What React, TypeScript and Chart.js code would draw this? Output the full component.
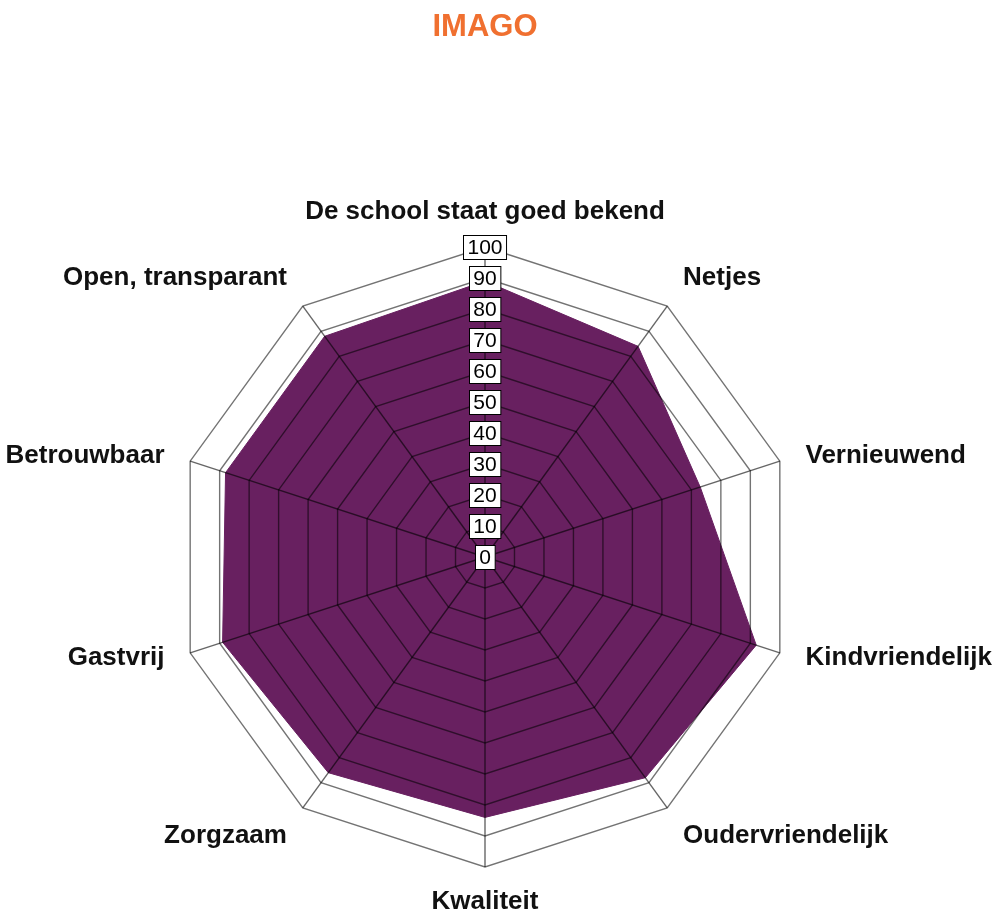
import React, { useEffect, useRef } from "react";
import { Chart, registerables } from "chart.js";

Chart.register(...registerables);

const TITLE = "IMAGO";
const CATEGORIES = [
  "De school staat goed bekend",
  "Netjes",
  "Vernieuwend",
  "Kindvriendelijk",
  "Oudervriendelijk",
  "Kwaliteit",
  "Zorgzaam",
  "Gastvrij",
  "Betrouwbaar",
  "Open, transparant",
];
const VALUES = [89, 84, 73, 92, 88, 84, 86, 89, 88, 88];
const TICK_VALUES = [0, 10, 20, 30, 40, 50, 60, 70, 80, 90, 100];

const FILL = "rgb(104,32,96)";
const FONT = '"Liberation Sans", Arial, Helvetica, sans-serif';

const labelPlugin = {
  id: "customLabels",
  afterDraw(chart: any) {
    const scale = chart.scales.r;
    const ctx = chart.ctx;
    const R = scale.drawingArea;
    const cx = scale.xCenter;
    const cy = scale.yCenter;
    ctx.save();
    // point labels
    ctx.font = `bold 26px ${FONT}`;
    ctx.fillStyle = "#111";
    ctx.textBaseline = "middle";
    CATEGORIES.forEach((lab, i) => {
      const px = scale.getPointPosition(i, R + 27);
      const far = scale.getPointPosition(i, R + 35);
      const steep = Math.abs(far.y - cy) / (R + 35) > 0.5;
      const py = steep ? far : scale.getPointPosition(i, R + 16);
      let align: CanvasTextAlign = "center";
      if (px.x > cx + 1) align = "left";
      else if (px.x < cx - 1) align = "right";
      ctx.textAlign = align;
      ctx.fillText(lab, px.x, py.y);
    });
    // tick boxes
    ctx.font = `21px ${FONT}`;
    ctx.textAlign = "center";
    ctx.textBaseline = "middle";
    TICK_VALUES.forEach((v) => {
      const p = scale.getPointPositionForValue(0, v);
      const text = String(v);
      const w = ctx.measureText(text).width + 8;
      const h = 24;
      const x = Math.round(p.x - w / 2) + 0.5;
      const y = Math.round(p.y - h / 2) + 0.5;
      ctx.fillStyle = "#fff";
      ctx.fillRect(x, y, w, h);
      ctx.strokeStyle = "#000";
      ctx.lineWidth = 1;
      ctx.strokeRect(x, y, w, h);
      ctx.fillStyle = "#000";
      ctx.fillText(text, p.x, p.y + 1);
    });
    ctx.restore();
  },
};

export default function App() {
  const ref = useRef<HTMLCanvasElement>(null);
  useEffect(() => {
    if (!ref.current) return;
    const chart = new Chart(ref.current, {
      type: "radar",
      data: {
        labels: CATEGORIES,
        datasets: [
          {
            label: TITLE,
            data: VALUES,
            backgroundColor: FILL,
            borderColor: FILL,
            borderWidth: 1,
            pointRadius: 0,
            fill: true,
          },
        ],
      },
      options: {
        responsive: false,
        animation: false,
        devicePixelRatio: 1,
        layout: { padding: { left: 174, right: 201, top: 0, bottom: 46 } },
        plugins: {
          legend: { display: false },
          tooltip: { enabled: false },
          title: {
            display: true,
            text: TITLE,
            color: "rgb(240,112,48)",
            font: { family: FONT, size: 31, weight: "bold" },
            padding: { top: 9, bottom: 201 },
          },
        },
        scales: {
          r: {
            min: 0,
            max: 100,
            ticks: { display: false, stepSize: 10 },
            pointLabels: { display: false },
            grid: { z: 1, color: "rgba(0,0,0,0.55)", lineWidth: 1.4 },
            angleLines: { color: "rgba(0,0,0,0.6)", lineWidth: 1.4 },
          },
        },
      },
      plugins: [labelPlugin],
    });
    return () => chart.destroy();
  }, []);
  return (
    <div style={{ position: "absolute", left: 0, top: 0 }}>
      <canvas ref={ref} width={997} height={914} />
    </div>
  );
}
